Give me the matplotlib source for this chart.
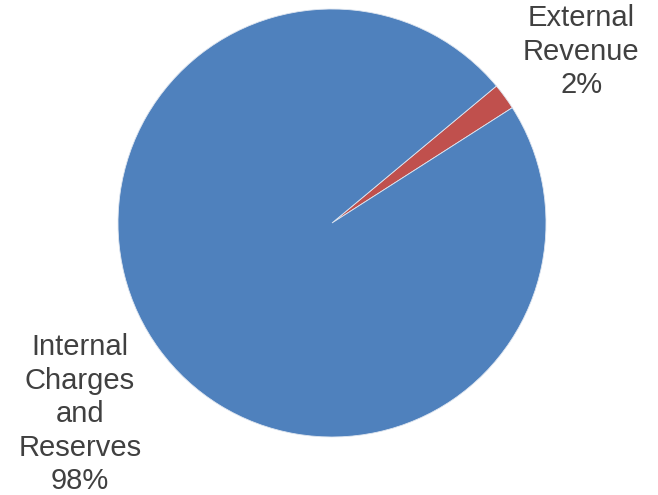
import matplotlib.pyplot as plt

categories = ["External\nRevenue", "Internal\nCharges\nand\nReserves"]
shares = [2, 98]
colours = ["#C0504D", "#4F81BD"]

plt.rcParams["font.family"] = ["Liberation Sans", "DejaVu Sans"]

fig = plt.figure(figsize=(6.58, 4.95), dpi=100)
ax = fig.add_axes([118 / 658, 58 / 495, 428 / 658, 428 / 495])

ax.pie(
    shares,
    colors=colours,
    startangle=32.6,
    counterclock=True,
    radius=1.0,
    wedgeprops=dict(edgecolor="#dfe6f0", linewidth=0.6),
)
ax.set_xlim(-1, 1)
ax.set_ylim(-1, 1)
ax.set_aspect("equal")
ax.axis("off")

# labels sit outside the pie, next to their slices
label_pos = [(1.164, 0.80), (-1.178, -0.893)]
for name, share, (x, y) in zip(categories, shares, label_pos):
    ax.text(x, y, f"{name}\n{share}%", ha="center", va="center",
            fontsize=21, color="#404040", linespacing=1.25, clip_on=False)

fig.savefig("out.png", dpi=100)
